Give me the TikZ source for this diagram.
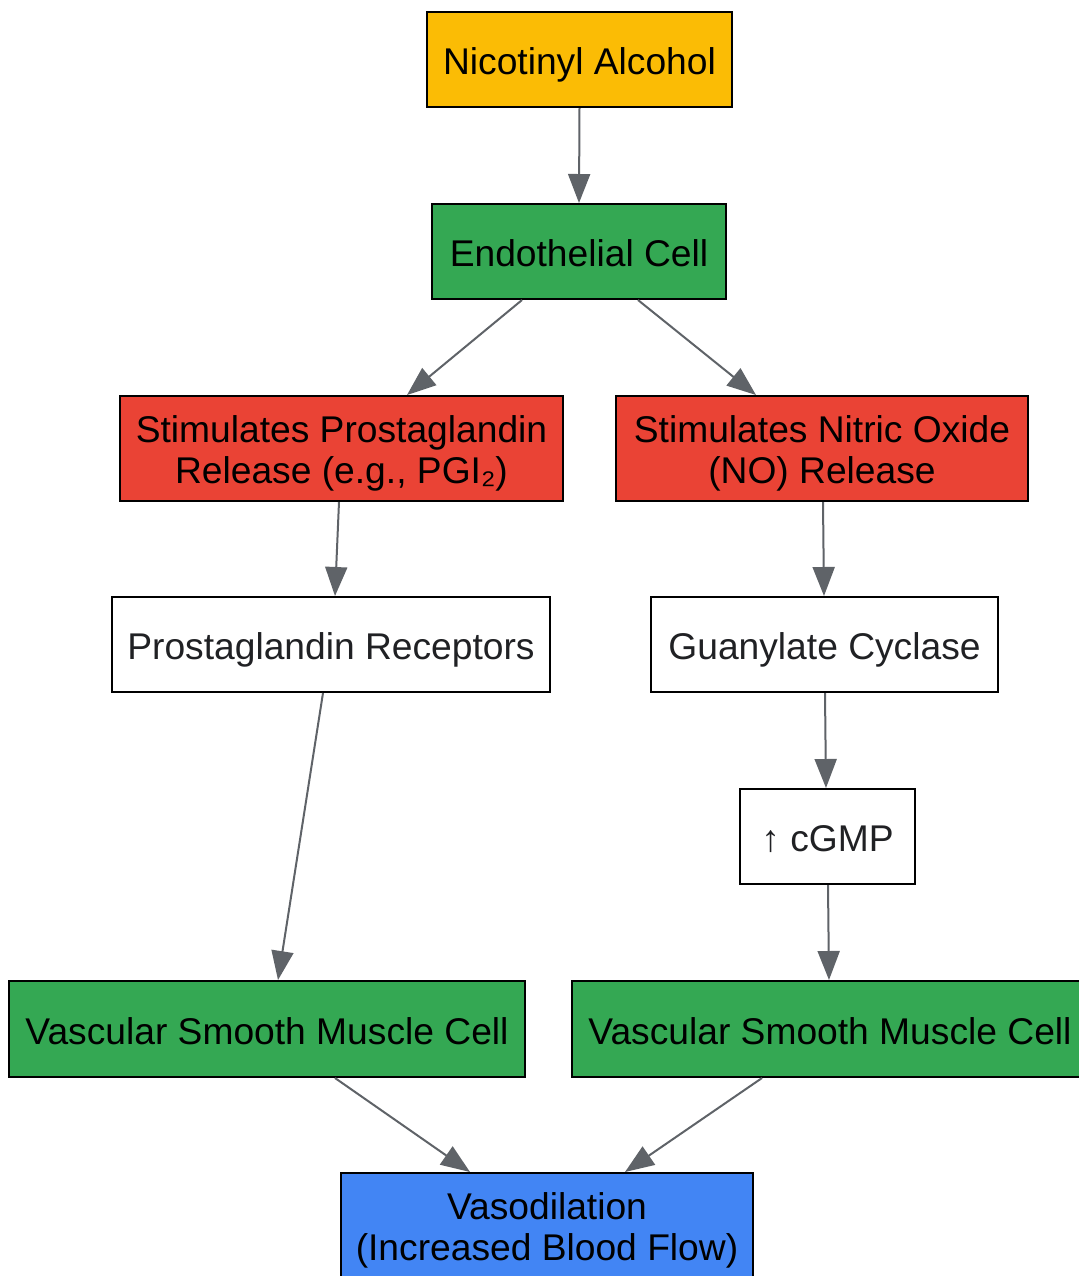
\documentclass[tikz,border=0pt]{standalone}
\usepackage{fontspec}
\setmainfont{Liberation Sans}
\usetikzlibrary{arrows.meta}
\definecolor{gyellow}{HTML}{FBBC05}
\definecolor{ggreen}{HTML}{34A853}
\definecolor{gred}{HTML}{EA4335}
\definecolor{gblue}{HTML}{4285F4}
\definecolor{ggrey}{HTML}{5F6368}
\definecolor{gtext}{HTML}{202124}
\tikzset{
  box/.style={draw=black,line width=1pt,align=center,inner sep=0pt,text height=18pt,text depth=3pt,font=\fontsize{18.6}{20.6}\selectfont},
  twoline/.style={text height=38pt,text depth=3pt},
  plain/.style={box,fill=white,text=gtext},
  link/.style={draw=ggrey,line width=1pt,-{Triangle[length=14.5pt,width=11pt]}}
}

\begin{document}
\begin{tikzpicture}[x=0.5pt,y=-0.5pt]
\useasboundingbox (0,0) rectangle (1078,1276);
\node[box,fill=gyellow,minimum width=152.5pt,minimum height=47.5pt] (nicotinyl) at (579.5,59.5) {Nicotinyl Alcohol};
\node[box,fill=ggreen,minimum width=147pt,minimum height=47.5pt] (endo) at (579,251.5) {Endothelial Cell};
\node[box,twoline,fill=gred,minimum width=221.5pt,minimum height=52.5pt] (pgrel) at (341.5,448.5) {Stimulates Prostaglandin\\Release (e.g., PGI₂)};
\node[box,twoline,fill=gred,minimum width=206pt,minimum height=52.5pt] (norel) at (822,448.5) {Stimulates Nitric Oxide\\(NO) Release};
\node[plain,minimum width=219pt,minimum height=47.5pt] (pgrec) at (331,644.5) {Prostaglandin Receptors};
\node[plain,minimum width=173.5pt,minimum height=47.5pt] (guan) at (824.5,644.5) {Guanylate Cyclase};
\node[plain,minimum width=87.5pt,minimum height=47.5pt] (cgmp) at (827.5,836.5) {↑ cGMP};
\node[box,fill=ggreen,minimum width=258pt,minimum height=48pt] (vsmcl) at (267,1029) {Vascular Smooth Muscle Cell};
\node[box,fill=ggreen,minimum width=258pt,minimum height=48pt] (vsmcr) at (830,1029) {Vascular Smooth Muscle Cell};
\node[box,twoline,fill=gblue,minimum width=206pt,minimum height=52.5pt] (vaso) at (547,1225.5) {Vasodilation\\(Increased Blood Flow)};
% connectors, xshift of start and end in pt
\foreach \a/\sa/\b/\sb in {nicotinyl/0/endo/0, endo/-28.5/pgrel/32.75, endo/29.5/norel/-33,
  pgrel/-1.25/pgrec/2, norel/0.5/guan/-0.25, guan/0.25/cgmp/-0.75, pgrec/-4/vsmcl/5.5,
  cgmp/0.25/vsmcr/-0.5, vsmcl/34/vaso/-38.5, vsmcr/-34/vaso/39}
  { \draw[link] ([xshift=\sa]\a.south) -- ([xshift=\sb]\b.north); }
\end{tikzpicture}
\end{document}
